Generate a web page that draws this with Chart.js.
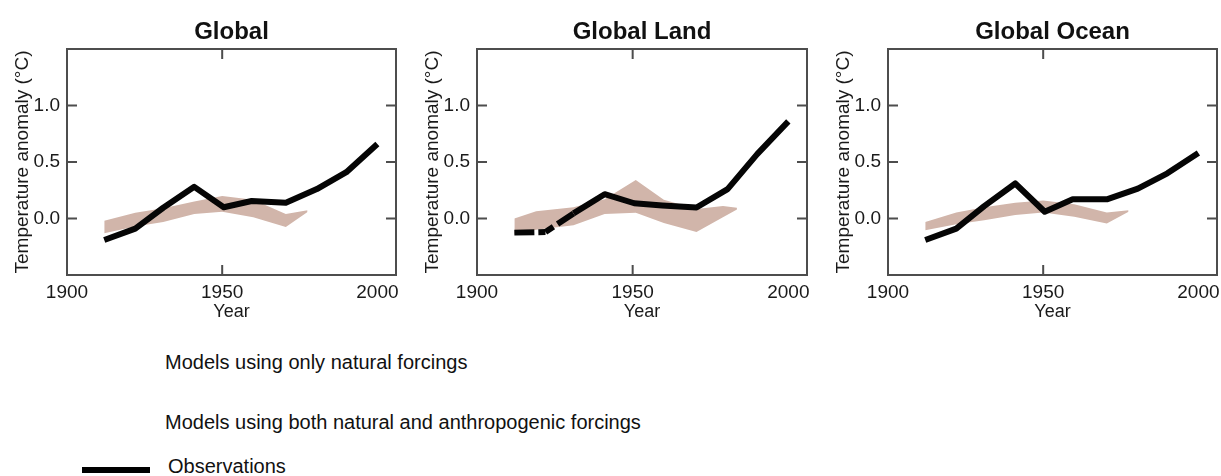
<!DOCTYPE html>
<html>
<head>
<meta charset="utf-8">
<script src="https://cdn.jsdelivr.net/npm/chart.js@4.4.1/dist/chart.umd.min.js"></script>
<style>
  html, body { margin: 0; padding: 0; background: #fff; }
  body { width: 1221px; height: 476px; position: relative; overflow: hidden;
         font-family: "Liberation Sans", Arial, sans-serif; }
  canvas { position: absolute; top: 0; }
  .leg { position: absolute; font-size: 20px; line-height: 20px; color: #111; white-space: nowrap; }
  .bar { position: absolute; background: #000; }
</style>
</head>
<body>
<canvas id="c1" width="410" height="330" style="left:0px"></canvas>
<canvas id="c2" width="410" height="330" style="left:410px"></canvas>
<canvas id="c3" width="400" height="330" style="left:821px"></canvas>

<div class="leg" style="left:165px; top:352px;">Models using only natural forcings</div>
<div class="leg" style="left:165px; top:412px;">Models using both natural and anthropogenic forcings</div>
<div class="bar" style="left:82px; top:467px; width:68px; height:6px;"></div>
<div class="leg" style="left:168px; top:456px;">Observations</div>

<script>
// ---- Data ----
const PANEL_TITLES = ["Global", "Global Land", "Global Ocean"];
const X_TICKS = [1900, 1950, 2000];
const X_INNER_TICKS = [1950];
const Y_TICKS = [0.0, 0.5, 1.0];

const OBS_YEARS = [1912, 1922, 1931, 1941, 1950.5, 1959.5, 1970.5, 1980.5, 1990, 2000];
const GLOBAL_OBS = [-0.19, -0.09, 0.095, 0.28, 0.10, 0.155, 0.14, 0.26, 0.41, 0.66];
const LAND_OBS   = [-0.125, -0.12, 0.045, 0.215, 0.135, 0.115, 0.097, 0.26, 0.57, 0.86];
const OCEAN_OBS  = [-0.19, -0.09, 0.11, 0.31, 0.06, 0.17, 0.17, 0.265, 0.40, 0.58];

const NAT_YEARS        = [1912, 1922, 1931, 1941, 1950, 1960, 1970.5, 1977.5];
const GLOBAL_NAT_UPPER = [-0.02, 0.05, 0.09, 0.15, 0.20, 0.165, 0.04, 0.072];
const GLOBAL_NAT_LOWER = [-0.13, -0.07, -0.03, 0.04, 0.06, 0.01, -0.075, 0.058];

const LAND_NAT_YEARS = [1912, 1919, 1931, 1941, 1951, 1960, 1970.5, 1979, 1983.5];
const LAND_NAT_UPPER = [0.0, 0.065, 0.10, 0.17, 0.34, 0.165, 0.085, 0.11, 0.095];
const LAND_NAT_LOWER = [-0.14, -0.10, -0.06, 0.04, 0.05, -0.04, -0.12, 0.01, 0.08];

const OCEAN_NAT_UPPER = [-0.03, 0.053, 0.10, 0.14, 0.16, 0.127, 0.053, 0.072];
const OCEAN_NAT_LOWER = [-0.105, -0.05, -0.015, 0.03, 0.053, 0.015, -0.045, 0.06];

// ---- Styling / layout ----
const FONT = '"Liberation Sans", Arial, sans-serif';
const BAND_COLOR = '#d1b5aa';
const FRAME_COLOR = '#4d4d4d';

const pts = (xs, ys) => xs.map((x, i) => ({ x: x, y: ys[i] }));

const frameTicks = {
  id: 'frameTicks',
  afterDatasetsDraw(chart) {
    const { ctx, chartArea: a, scales: { x, y } } = chart;
    ctx.save();
    ctx.strokeStyle = FRAME_COLOR;
    ctx.lineWidth = 2;
    ctx.strokeRect(a.left, a.top, a.right - a.left, a.bottom - a.top);
    const L = 10;
    ctx.beginPath();
    X_INNER_TICKS.forEach(v => {
      const px = x.getPixelForValue(v);
      ctx.moveTo(px, a.top); ctx.lineTo(px, a.top + L);
      ctx.moveTo(px, a.bottom); ctx.lineTo(px, a.bottom - L);
    });
    Y_TICKS.forEach(v => {
      const py = y.getPixelForValue(v);
      ctx.moveTo(a.left, py); ctx.lineTo(a.left + L, py);
      ctx.moveTo(a.right, py); ctx.lineTo(a.right - L, py);
    });
    ctx.stroke();
    ctx.restore();
  }
};

function makeChart(id, title, obs, bandYears, upper, lower, padRight, dashed) {
  const obsDs = {
    label: 'Observations',
    data: pts(OBS_YEARS, obs),
    borderColor: '#050505',
    borderWidth: 6,
    borderJoinStyle: 'round',
    borderCapStyle: 'butt',
    pointRadius: 0,
    fill: false,
    tension: 0
  };
  if (dashed) {
    obsDs.segment = {
      borderDash: ctx => ctx.p0DataIndex === 0 ? [20, 4] : (ctx.p0DataIndex === 1 ? [9.5, 5, 400, 0] : undefined)
    };
  }
  return new Chart(document.getElementById(id), {
    type: 'line',
    data: {
      datasets: [
        obsDs,
        {
          label: 'Models using only natural forcings',
          data: pts(bandYears, upper),
          borderWidth: 0,
          borderColor: 'rgba(0,0,0,0)',
          backgroundColor: BAND_COLOR,
          pointRadius: 0,
          fill: '+1'
        },
        {
          label: 'natural lower',
          data: pts(bandYears, lower),
          borderWidth: 0,
          borderColor: 'rgba(0,0,0,0)',
          pointRadius: 0,
          fill: false
        }
      ]
    },
    options: {
      responsive: false,
      animation: false,
      devicePixelRatio: 1,
      layout: { padding: { top: 0, left: 0, bottom: 0, right: padRight } },
      plugins: {
        legend: { display: false },
        tooltip: { enabled: false },
        title: {
          display: true,
          text: title,
          fullSize: false,
          color: '#111',
          font: { family: FONT, size: 24, weight: 'bold', lineHeight: 1.2 },
          padding: { top: 18, bottom: 2.2 }
        }
      },
      scales: {
        x: {
          type: 'linear',
          min: 1900,
          max: 2006,
          grid: { display: false, drawTicks: false, tickLength: 0 },
          border: { display: false },
          afterBuildTicks: s => { s.ticks = X_TICKS.map(v => ({ value: v })); },
          afterFit: s => { s.height = 55; s.paddingLeft = 0; s.paddingRight = 0; },
          ticks: {
            color: '#1a1a1a',
            padding: 6,
            maxRotation: 0,
            font: { family: FONT, size: 19 },
            callback: v => String(v)
          },
          title: {
            display: true,
            text: 'Year',
            color: '#1a1a1a',
            font: { family: FONT, size: 18 },
            padding: { top: 0, bottom: 7 }
          }
        },
        y: {
          type: 'linear',
          min: -0.5,
          max: 1.5,
          grid: { display: false, drawTicks: false, tickLength: 0 },
          border: { display: false },
          afterBuildTicks: s => { s.ticks = Y_TICKS.map(v => ({ value: v })); },
          afterFit: s => { s.width = 67; s.paddingTop = 0; s.paddingBottom = 0; },
          ticks: {
            color: '#1a1a1a',
            padding: 7,
            font: { family: FONT, size: 19 },
            callback: v => Number(v).toFixed(1)
          },
          title: {
            display: true,
            text: 'Temperature anomaly (°C)',
            color: '#1a1a1a',
            font: { family: FONT, size: 19 },
            padding: { top: 11.6, bottom: 0 }
          }
        }
      }
    },
    plugins: [frameTicks]
  });
}

makeChart('c1', PANEL_TITLES[0], GLOBAL_OBS, NAT_YEARS, GLOBAL_NAT_UPPER, GLOBAL_NAT_LOWER, 14, false);
makeChart('c2', PANEL_TITLES[1], LAND_OBS, LAND_NAT_YEARS, LAND_NAT_UPPER, LAND_NAT_LOWER, 13, true);
makeChart('c3', PANEL_TITLES[2], OCEAN_OBS, NAT_YEARS, OCEAN_NAT_UPPER, OCEAN_NAT_LOWER, 4, false);
</script>
</body>
</html>
